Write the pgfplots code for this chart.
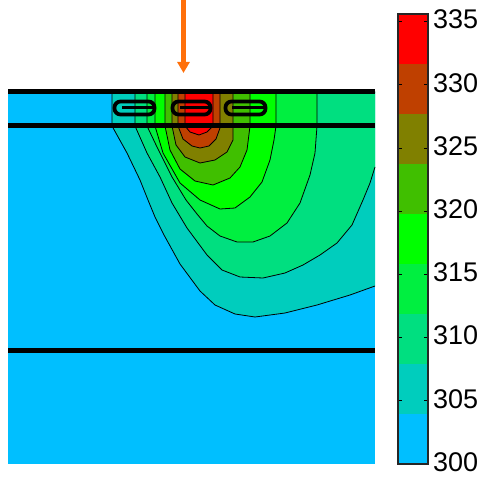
\documentclass[border=0pt]{standalone}
\usepackage{fontspec}
\setmainfont{Liberation Sans}
\usepackage{pgfplots}
\pgfplotsset{compat=1.18}
\usepackage{pgfplotstable}
\usetikzlibrary{arrows.meta}
\definecolor{cA}{RGB}{0,191,255}
\definecolor{cB}{RGB}{0,205,189}
\definecolor{cC}{RGB}{0,223,128}
\definecolor{cD}{RGB}{0,239,64}
\definecolor{cE}{RGB}{0,255,0}
\definecolor{cF}{RGB}{64,191,0}
\definecolor{cG}{RGB}{128,128,0}
\definecolor{cH}{RGB}{191,64,0}
\definecolor{cI}{RGB}{255,0,0}
\definecolor{arr}{RGB}{255,112,10}
\begin{document}
\pgfplotstableread{
x y
375 92
112 92
112 126
127 153
140 180
148 200
155 217
164 235
180 264
200 291
215 305
235 314
255 317
285 313
317 305
350 295
375 286
}\Lone
\pgfplotstableread{
x y
375 92
135 92
135 126
147 153
160 177
172 203
187 228
207 255
222 270
240 277
263 278
285 273
303 265
320 255
337 243
352 225
363 200
370 183
375 167
}\Ltwo
\pgfplotstableread{
x y
147 92
147 126
157 147
172 177
186 200
197 214
207 226
220 236
237 242
253 242
270 236
287 223
300 203
310 175
315 153
317 126
317 92
}\Lthree
\pgfplotstableread{
x y
155 92
155 126
163 153
180 183
200 200
220 209
235 208
250 197
262 182
270 160
274 140
276 126
276 92
}\Lfour
\pgfplotstableread{
x y
165 92
165 126
170 150
180 169
195 181
213 185
230 178
240 167
247 150
250 126
250 92
}\Lfive
\pgfplotstableread{
x y
172 92
172 126
176 145
185 157
200 163
215 160
227 152
233 140
233 126
233 92
}\Lsix
\pgfplotstableread{
x y
178 92
178 126
183 139
192 146
200 148
209 146
216 139
220 128
220 92
}\Lseven
\pgfplotstableread{
x y
185 92
185 126
190 132
199 135
207 132
213 126
213 92
}\Leight
\begin{tikzpicture}
\begin{axis}[at={(0,0)}, anchor=south west, scale only axis,
  width=484pt, height=476pt, xmin=0, xmax=484, ymin=0, ymax=476,
  y dir=reverse, hide axis]
\addplot[draw=none] coordinates {(0,0) (484,476)};
\addplot[fill=cA, draw=none] coordinates {(8,92) (375,92) (375,464) (8,464)};
\addplot[fill=cB, draw=black, line width=0.8pt] table {\Lone};
\addplot[fill=cC, draw=black, line width=0.8pt] table {\Ltwo};
\addplot[fill=cD, draw=black, line width=0.8pt] table {\Lthree};
\addplot[fill=cE, draw=black, line width=0.8pt] table {\Lfour};
\addplot[fill=cF, draw=black, line width=0.8pt] table {\Lfive};
\addplot[fill=cG, draw=black, line width=0.8pt] table {\Lsix};
\addplot[fill=cH, draw=black, line width=0.8pt] table {\Lseven};
\addplot[fill=cI, draw=black, line width=0.8pt] table {\Leight};
% layer lines
\addplot[black, line width=5pt] coordinates {(8,92) (375,92)};
\addplot[black, line width=5pt] coordinates {(8,125.5) (375,125.5)};
\addplot[black, line width=5pt] coordinates {(8,350.5) (375,350.5)};
% heater outlines
\addplot[black, line width=3.8pt, rounded corners=6pt] coordinates {(134,101.5) (154.5,101.5) (154.5,114.5) (114.5,114.5) (114.5,101.5) (134,101.5)};
\addplot[black, line width=3pt] coordinates {(122,108) (153,108)};
\addplot[black, line width=3.8pt, rounded corners=6pt] coordinates {(191,101.5) (210.5,101.5) (210.5,114.5) (172.5,114.5) (172.5,101.5) (191,101.5)};
\addplot[black, line width=3pt] coordinates {(180,108) (209,108)};
\addplot[black, line width=3.8pt, rounded corners=6pt] coordinates {(245,101.5) (265.5,101.5) (265.5,114.5) (225.5,114.5) (225.5,101.5) (245,101.5)};
\addplot[black, line width=3pt] coordinates {(232,108) (264,108)};
% arrow
\addplot[arr, line width=5pt, -{Triangle[width=12pt,length=11pt]}] coordinates {(183.5,0) (183.5,73)};
\end{axis}
\begin{axis}[at={(398pt,12pt)}, anchor=south west, scale only axis,
  width=30pt, height=450pt, xmin=0, xmax=1, ymin=300, ymax=335.6,
  xtick=\empty, ytick={300,305,...,335},
  yticklabel pos=right, ytick pos=both, tick align=inside,
  major tick length=4pt, tick style={black, line width=0.6pt},
  axis line style={line width=1.2pt, black!85}, axis on top,
  /pgf/number format/assume math mode=true,
  yticklabel style={font=\fontsize{27}{27}\selectfont, inner sep=0pt, xshift=5pt, yshift=2pt}]
\addplot[fill=cA, draw=none] coordinates {(0,300) (1,300) (1,303.956) (0,303.956)};
\addplot[fill=cB, draw=none] coordinates {(0,303.956) (1,303.956) (1,307.911) (0,307.911)};
\addplot[fill=cC, draw=none] coordinates {(0,307.911) (1,307.911) (1,311.867) (0,311.867)};
\addplot[fill=cD, draw=none] coordinates {(0,311.867) (1,311.867) (1,315.822) (0,315.822)};
\addplot[fill=cE, draw=none] coordinates {(0,315.822) (1,315.822) (1,319.778) (0,319.778)};
\addplot[fill=cF, draw=none] coordinates {(0,319.778) (1,319.778) (1,323.733) (0,323.733)};
\addplot[fill=cG, draw=none] coordinates {(0,323.733) (1,323.733) (1,327.689) (0,327.689)};
\addplot[fill=cH, draw=none] coordinates {(0,327.689) (1,327.689) (1,331.644) (0,331.644)};
\addplot[fill=cI, draw=none] coordinates {(0,331.644) (1,331.644) (1,335.6) (0,335.6)};
\end{axis}
\end{tikzpicture}
\end{document}
